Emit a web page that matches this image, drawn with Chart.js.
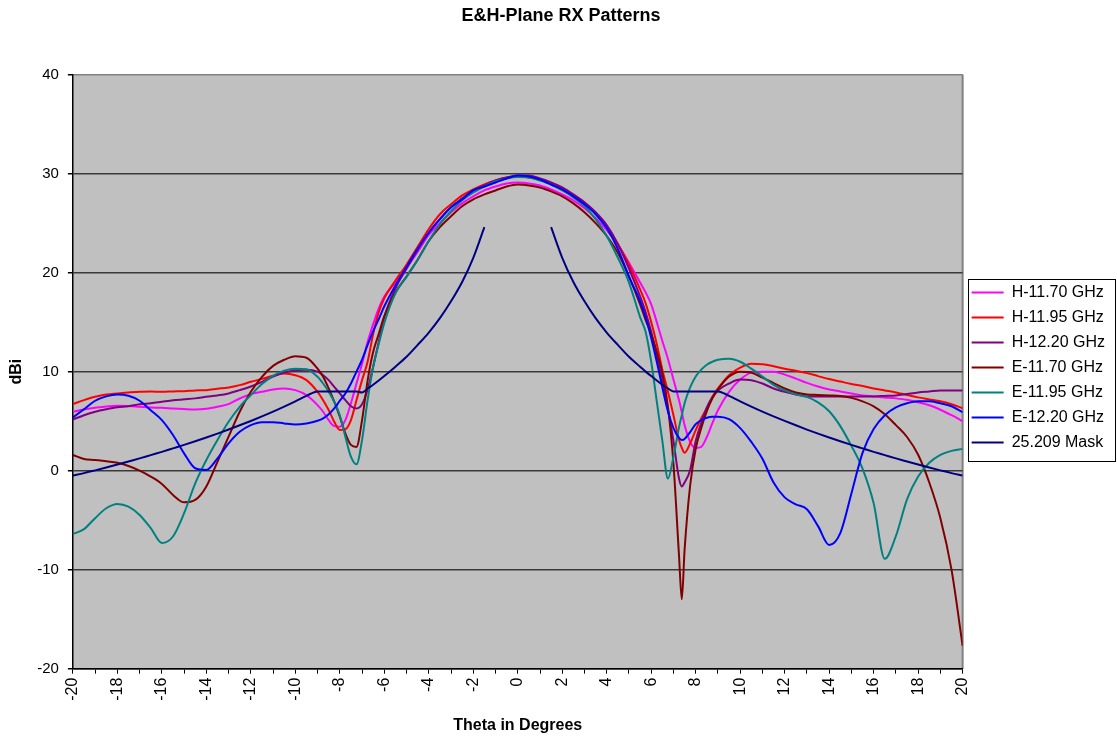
<!DOCTYPE html>
<html>
<head>
<meta charset="utf-8">
<title>E&amp;H-Plane RX Patterns</title>
<script src="https://cdn.jsdelivr.net/npm/chart.js@4/dist/chart.umd.min.js"></script>
<style>
  html, body { margin: 0; padding: 0; background: #fff; }
  #wrap { width: 1117px; height: 736px; position: relative; }
</style>
</head>
<body>
<div id="wrap"><canvas id="chart-rx"></canvas></div>
<script>
// ---- Data ----
// theta grid, finer around the first nulls
const theta = [
  -20, -19.5, -19, -18.5, -18, -17.5, -17, -16.5, -16, -15.5, -15, -14.5, -14, -13.5, -13, -12.5, -12, -11.5, -11, -10.5, -10, -9.5, -9,
  -8.75, -8.5, -8.25, -8, -7.75, -7.5, -7.25, -7, -6.75, -6.5, -6.25, -6,
  -5.5, -5, -4.5, -4, -3.5, -3, -2.5, -2, -1.5, -1, -0.5, 0, 0.5, 1, 1.5, 2, 2.5, 3, 3.5, 4, 4.5, 5, 5.5,
  5.75, 6, 6.25, 6.5, 6.75, 7, 7.25, 7.375, 7.5, 7.75, 8, 8.25, 8.5, 8.75, 9,
  9.5, 10, 10.5, 11, 11.5, 12, 12.5, 13, 13.5, 14, 14.5, 15, 15.5, 16, 16.5, 17, 17.5, 18, 18.5, 19, 19.5, 20
];

const h1170 = [
  5.95, 6.18, 6.35, 6.49, 6.55, 6.52, 6.45, 6.38, 6.35, 6.28, 6.22, 6.18, 6.25, 6.45, 6.72, 7.29, 7.73, 7.96, 8.2, 8.3, 8.13, 7.63, 6.62,
  5.95, 5.1, 4.5, 4.44, 5.1, 6.8, 8.8, 10.8, 13.0, 14.8, 16.4, 17.6,
  19.0, 20.5, 22.1, 23.8, 25.0, 26.1, 27.0, 27.7, 28.3, 28.7, 29.0, 29.1, 29.0, 28.8, 28.4, 27.9, 27.3, 26.5, 25.5, 24.3, 22.8, 21.0, 19.0,
  18.0, 16.8, 15.0, 13.1, 11.3, 9.2, 7.1, 5.9, 4.6, 2.9, 2.3, 2.4, 3.4, 4.8, 6.1,
  7.96, 9.2, 9.9, 10.0, 10.0, 9.7, 9.3, 8.87, 8.5, 8.2, 8.0, 7.8, 7.6, 7.5, 7.4, 7.3, 7.15, 6.9, 6.6, 6.15, 5.6, 5.0
];

const h1195 = [
  6.72, 7.12, 7.46, 7.69, 7.8, 7.9, 7.96, 8.0, 7.96, 8.0, 8.03, 8.1, 8.13, 8.27, 8.4, 8.64, 8.97, 9.27, 9.58, 9.81, 9.64, 9.14, 7.96,
  7.12, 6.12, 4.94, 4.1, 4.17, 5.1, 7.12, 9.14, 11.0, 13.8, 16.0, 17.4,
  19.2, 20.8, 22.6, 24.4, 25.9, 26.9, 27.8, 28.4, 28.9, 29.3, 29.6, 29.7, 29.6, 29.4, 29.0, 28.5, 27.8, 27.0, 26.0, 24.6, 22.9, 20.8, 18.3,
  16.9, 15.0, 12.8, 10.2, 8.0, 5.6, 3.1, 2.3, 1.8, 2.75, 4.1, 5.3, 6.3, 7.46, 8.3,
  9.64, 10.4, 10.8, 10.75, 10.55, 10.3, 10.1, 9.85, 9.55, 9.25, 9.0, 8.75, 8.55, 8.3, 8.1, 7.9, 7.65, 7.4, 7.2, 7.0, 6.7, 6.3
];

const h1220 = [
  5.17, 5.6, 5.95, 6.2, 6.4, 6.5, 6.7, 6.8, 6.95, 7.1, 7.2, 7.3, 7.46, 7.6, 7.8, 8.13, 8.5, 8.97, 9.5, 9.9, 10.15, 10.2, 10.0,
  9.64, 9.14, 8.47, 7.8, 7.12, 6.5, 6.28, 6.7, 8.2, 10.5, 13.0, 15.5,
  18.4, 20.4, 22.3, 24.0, 25.4, 26.6, 27.5, 28.3, 28.8, 29.3, 29.6, 29.8, 29.8, 29.5, 29.1, 28.6, 27.9, 27.1, 26.1, 24.8, 22.9, 20.4, 17.6,
  16.0, 14.0, 11.6, 9.0, 6.2, 3.0, -0.8, -1.6, -1.2, 0.07, 3.0, 4.8, 6.4, 7.4, 8.1,
  8.8, 9.2, 9.14, 8.8, 8.3, 7.96, 7.7, 7.5, 7.5, 7.5, 7.5, 7.5, 7.5, 7.5, 7.55, 7.6, 7.75, 7.9, 8.0, 8.1, 8.1, 8.1
];

const e1170 = [
  1.58, 1.18, 1.08, 0.94, 0.8, 0.47, 0.0, -0.6, -1.34, -2.45, -3.2, -2.96, -1.6, 0.9, 3.43, 5.95, 7.96, 9.48, 10.58, 11.2, 11.56, 11.4, 10.3,
  9.48, 8.3, 6.96, 5.44, 3.76, 2.6, 2.4, 5.1, 9.1, 12.0, 13.8, 15.6,
  18.0, 19.6, 21.3, 23.2, 24.6, 25.7, 26.7, 27.4, 27.9, 28.3, 28.7, 28.9, 28.8, 28.6, 28.2, 27.7, 27.0, 26.1, 25.0, 23.7, 22.0, 19.6, 16.8,
  15.2, 13.8, 12.0, 9.8, 6.5, 0.7, -8.6, -13.0, -8.0, -1.5, 2.2, 4.3, 6.0, 7.3, 8.2,
  9.5, 10.0, 9.9, 9.4, 8.85, 8.3, 7.9, 7.7, 7.65, 7.6, 7.55, 7.35, 7.0, 6.5, 5.7, 4.6, 3.4, 1.6, -1.2, -4.8, -10.0, -17.7
];

const e1195 = [
  -6.4, -5.9, -4.8, -3.8, -3.36, -3.63, -4.47, -5.8, -7.3, -6.65, -4.3, -1.28, 1.08, 3.1, 4.94, 6.45, 7.63, 8.74, 9.58, 10.1, 10.3, 10.25, 9.48,
  8.8, 7.96, 6.96, 5.6, 3.43, 1.41, 0.64, 3.1, 7.12, 10.5, 12.8, 14.9,
  17.9, 19.6, 21.3, 23.2, 24.9, 26.2, 27.3, 28.1, 28.7, 29.2, 29.5, 29.65, 29.6, 29.3, 28.9, 28.3, 27.6, 26.7, 25.4, 23.7, 21.5, 19.0, 15.5,
  14.0, 11.0, 7.0, 3.0, -0.8, 1.4, 4.4, 5.6, 6.8, 8.4, 9.5, 10.2, 10.7, 11.0, 11.2,
  11.3, 11.0, 10.3, 9.5, 8.67, 8.1, 7.7, 7.45, 6.9, 6.0, 4.5, 2.5, 0.2, -3.3, -8.9, -6.6, -2.9, -0.6, 0.8, 1.6, 2.0, 2.2
];

const e1220 = [
  5.38, 6.2, 7.06, 7.5, 7.7, 7.56, 7.06, 6.1, 5.1, 3.6, 1.75, 0.24, 0.07, 1.24, 2.76, 3.93, 4.6, 4.9, 4.9, 4.77, 4.67, 4.77, 5.04,
  5.28, 5.7, 6.28, 7.06, 7.8, 8.8, 10.0, 11.2, 12.7, 14.1, 15.3, 16.6,
  18.7, 20.6, 22.4, 24.05, 25.4, 26.6, 27.4, 28.3, 28.7, 29.1, 29.5, 29.8, 29.7, 29.4, 28.9, 28.4, 27.7, 26.9, 25.9, 24.5, 22.4, 19.6, 17.1,
  15.5, 13.4, 11.0, 8.4, 6.0, 4.3, 3.3, 3.1, 3.2, 3.9, 4.7, 5.1, 5.35, 5.45, 5.45,
  5.2, 4.3, 2.9, 1.2, -1.2, -2.7, -3.4, -3.9, -5.6, -7.5, -6.3, -2.3, 1.8, 4.2, 5.6, 6.4, 6.8, 7.0, 7.0, 6.8, 6.5, 5.9
];

// 25.209 mask, no values inside +-1.4 deg
const mask = [
  -0.5, -0.25, 0.03, 0.32, 0.62, 0.93, 1.24, 1.57, 1.9, 2.25, 2.6, 2.97, 3.35, 3.74, 4.15, 4.58, 5.02, 5.48, 5.96, 6.47, 7.0, 7.56, 8.0,
  8.0, 8.0, 8.0, 8.0, 8.0, 8.0, 8.0, 7.9, 8.3, 8.68, 9.1, 9.55,
  10.5, 11.5, 12.7, 13.95, 15.4, 17.1, 19.05, 21.5, 24.6, null, null, null, null, null, 24.6, 21.5, 19.05, 17.1, 15.4, 13.95, 12.7, 11.5, 10.5,
  10.0, 9.55, 9.1, 8.68, 8.3, 8.0, 8.0, 8.0, 8.0, 8.0, 8.0, 8.0, 8.0, 8.0, 8.0,
  7.56, 7.0, 6.47, 5.96, 5.48, 5.02, 4.58, 4.15, 3.74, 3.35, 2.97, 2.6, 2.25, 1.9, 1.57, 1.24, 0.93, 0.62, 0.32, 0.03, -0.25, -0.5
];

const seriesNames  = ['H-11.70 GHz', 'H-11.95 GHz', 'H-12.20 GHz', 'E-11.70 GHz', 'E-11.95 GHz', 'E-12.20 GHz', '25.209 Mask'];
const seriesValues = [h1170, h1195, h1220, e1170, e1195, e1220, mask];
const seriesColors = ['#FF00FF', '#FF0000', '#800080', '#800000', '#008080', '#0000FF', '#000080'];

const yTicks = [-20, -10, 0, 10, 20, 30, 40];

// ---- Plugins ----
// grey plot area like the Excel chart, with a grey frame on the right
const plotBackground = {
  id: 'plotBackground',
  beforeDraw(chart) {
    const { ctx, chartArea: a } = chart;
    ctx.save();
    ctx.fillStyle = '#C0C0C0';
    ctx.fillRect(a.left, a.top, a.right - a.left, a.bottom - a.top);
    ctx.strokeStyle = '#808080';
    ctx.lineWidth = 2;
    ctx.beginPath();
    ctx.moveTo(a.right, a.top);
    ctx.lineTo(a.right, a.bottom);
    ctx.stroke();
    ctx.restore();
  }
};

// box around the legend entries
const legendFrame = {
  id: 'legendFrame',
  afterDraw(chart) {
    const boxes = chart.legend && chart.legend.legendHitBoxes;
    if (!boxes || !boxes.length) return;
    const l = Math.min(...boxes.map(b => b.left)) - 4;
    const t = Math.min(...boxes.map(b => b.top)) - 6;
    const r = chart.width - 1;
    const b = Math.max(...boxes.map(b => b.top + b.height)) + 10;
    const ctx = chart.ctx;
    ctx.save();
    ctx.strokeStyle = '#000';
    ctx.lineWidth = 1;
    ctx.strokeRect(Math.round(l) + 0.5, Math.round(t) + 0.5, Math.round(r - l) - 1, Math.round(b - t));
    ctx.restore();
  }
};

// ---- Chart ----
Chart.defaults.font.family = "'Liberation Sans', Arial, sans-serif";
Chart.defaults.color = '#000';

const datasets = seriesNames.map((name, i) => ({
  label: name,
  data: theta.map((t, k) => ({ x: t, y: seriesValues[i][k] })),
  borderColor: seriesColors[i],
  backgroundColor: seriesColors[i],
  borderWidth: 2,
  pointRadius: 0,
  cubicInterpolationMode: 'monotone',
  spanGaps: false,
  order: seriesNames.length - i,   // later series on top, as in Excel
}));

new Chart(document.getElementById('chart-rx'), {
  type: 'line',
  data: { datasets },
  plugins: [plotBackground, legendFrame],
  options: {
    responsive: true,
    maintainAspectRatio: false,
    animation: false,
    layout: { padding: { left: 7, right: 2, top: 0, bottom: 1 } },
    plugins: {
      title: {
        display: true,
        text: 'E&H-Plane RX Patterns',
        font: { size: 18, weight: 'bold' },
        padding: { top: 5, bottom: 48 },
      },
      legend: {
        position: 'right',
        labels: {
          usePointStyle: true,
          pointStyle: 'line',
          pointStyleWidth: 32,
          boxHeight: 16,
          padding: 9,
          font: { size: 16 },
          sort: (a, b) => a.datasetIndex - b.datasetIndex,
        }
      },
      tooltip: { enabled: false },
    },
    scales: {
      x: {
        type: 'linear',
        min: -20,
        max: 20,
        ticks: {
          stepSize: 1,
          autoSkip: false,
          minRotation: 90,
          maxRotation: 90,
          padding: 4,
          font: { size: 16 },
          callback: v => (v % 2 === 0 ? String(v) : ''),
        },
        grid: { drawOnChartArea: false, drawTicks: true, tickLength: 5, color: '#000' },
        border: { color: '#000', width: 1.5 },
        title: {
          display: true,
          text: 'Theta in Degrees',
          font: { size: 16, weight: 'bold' },
          padding: { top: 11, bottom: 0 },
        },
      },
      y: {
        min: -20,
        max: 40,
        afterBuildTicks: axis => { axis.ticks = yTicks.map(v => ({ value: v })); },
        ticks: { padding: 9, font: { size: 15 } },
        grid: {
          color: c => (c.tick && c.tick.value === 40 ? '#808080' : '#3a3a3a'),
          lineWidth: 1.5,
          tickLength: 5,
          tickColor: '#000',
        },
        border: { color: '#000', width: 1.5 },
        title: {
          display: true,
          text: 'dBi',
          font: { size: 16, weight: 'bold' },
          padding: { top: 0, bottom: 2 },
        },
      }
    }
  }
});
</script>
</body>
</html>
